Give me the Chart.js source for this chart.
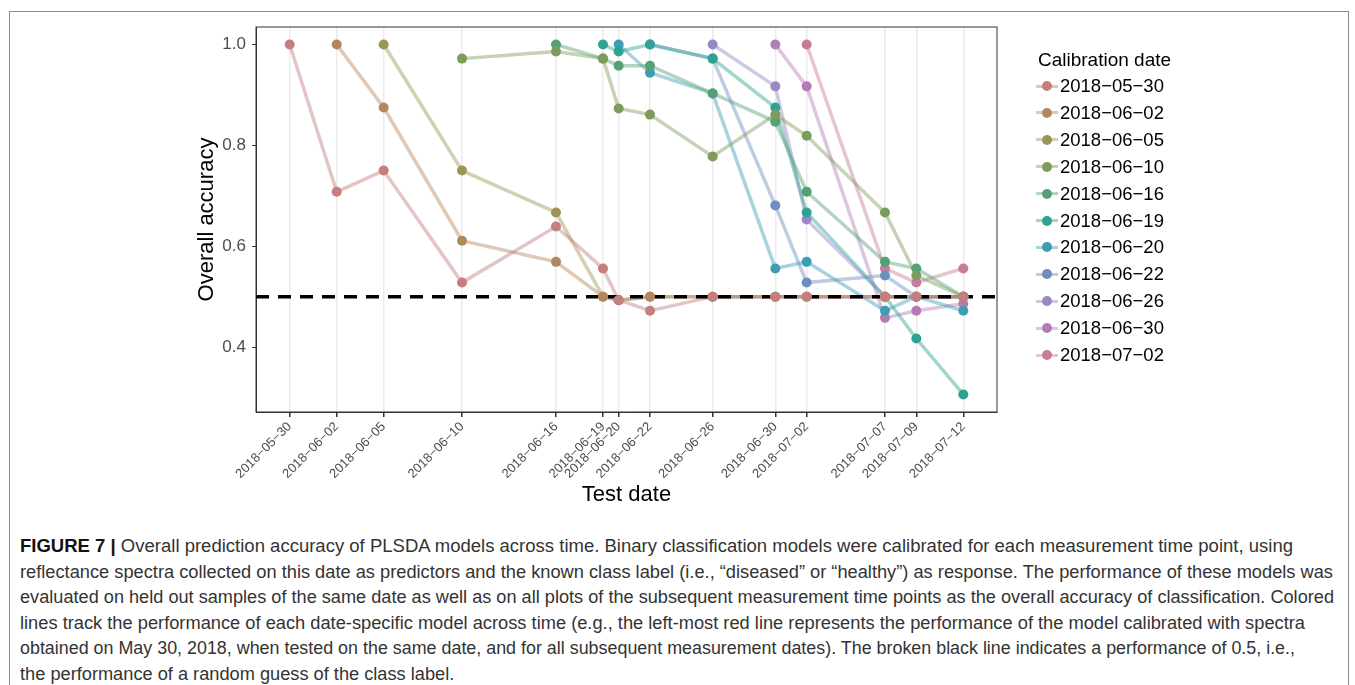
<!DOCTYPE html>
<html>
<head>
<meta charset="utf-8">
<script src="https://cdn.jsdelivr.net/npm/chart.js@4.4.1/dist/chart.umd.min.js"></script>
<style>
  body { margin: 0; background: #fff; width: 1355px; height: 685px; overflow: hidden; position: relative;
         font-family: 'Liberation Sans', Arial, sans-serif; }
  #frame { position: absolute; left: 9px; top: 11px; width: 1340px; height: 700px; border: 1.5px solid #8c8c8c; box-sizing: border-box; }
  #wrap { position: absolute; left: 0; top: 0; width: 1355px; height: 512px; }
  #legend { position: absolute; left: 1033px; top: 0; }
  .lg-title { position: absolute; left: 5px; top: 49px; font-size: 19px; white-space: nowrap; color: #000; }
  .lg-item { position: absolute; left: 0; height: 24px; width: 160px; }
  .lg-line { position: absolute; left: 3px; top: 10.5px; width: 22px; height: 3px; }
  .lg-dot { position: absolute; left: 9px; top: 7px; width: 10px; height: 10px; border-radius: 50%; }
  .lg-text { position: absolute; left: 27px; top: 1px; font-size: 18.5px; white-space: nowrap; color: #000; }
  #caption { position: absolute; left: 20px; top: 534px; color: #333; font-size: 17.5px; line-height: 25.6px; }
  .cl { white-space: nowrap; transform-origin: 0 0; width: max-content; height: 25.6px; }
  .cl b { color: #111; }
</style>
</head>
<body>
<div id="frame"></div>
<div id="wrap"><canvas id="accChart"></canvas></div>
<div id="legend"></div>
<div id="caption"></div>
<script>
// test dates on the x axis
const testDates = ['2018-05-30', '2018-06-02', '2018-06-05', '2018-06-10', '2018-06-16', '2018-06-19', '2018-06-20',
                   '2018-06-22', '2018-06-26', '2018-06-30', '2018-07-02', '2018-07-07', '2018-07-09', '2018-07-12'];
// one model per calibration date
const calibrationDates = ['2018-05-30', '2018-06-02', '2018-06-05', '2018-06-10', '2018-06-16', '2018-06-19',
                          '2018-06-20', '2018-06-22', '2018-06-26', '2018-06-30', '2018-07-02'];

// overall accuracy, aligned with testDates (null = not tested)
const acc0530 = [1.0, 0.708, 0.75, 0.528, 0.639, 0.556, 0.493, 0.472, 0.5, 0.5, 0.5, 0.5, 0.5, 0.5];
const acc0602 = [null, 1.0, 0.875, 0.611, 0.569, 0.5, 0.493, 0.5, 0.5, 0.5, 0.5, 0.5, 0.5, 0.5];
const acc0605 = [null, null, 1.0, 0.75, 0.667, 0.5, 0.493, 0.5, 0.5, 0.5, 0.5, 0.5, 0.5, 0.5];
const acc0610 = [null, null, null, 0.972, 0.986, 0.972, 0.873, 0.861, 0.778, 0.861, 0.819, 0.667, 0.542, 0.5];
const acc0616 = [null, null, null, null, 1.0, 0.972, 0.958, 0.958, 0.903, 0.847, 0.708, 0.569, 0.556, 0.5];
const acc0619 = [null, null, null, null, null, 1.0, 0.986, 1.0, 0.972, 0.875, 0.667, 0.5, 0.417, 0.306];
const acc0620 = [null, null, null, null, null, null, 1.0, 0.944, 0.903, 0.556, 0.569, 0.472, 0.5, 0.472];
const acc0622 = [null, null, null, null, null, null, null, 1.0, 0.972, 0.681, 0.528, 0.542, 0.5, 0.5];
const acc0626 = [null, null, null, null, null, null, null, null, 1.0, 0.917, 0.653, 0.5, 0.5, 0.5];
const acc0630 = [null, null, null, null, null, null, null, null, null, 1.0, 0.917, 0.458, 0.472, 0.486];
const acc0702 = [null, null, null, null, null, null, null, null, null, null, 1.0, 0.556, 0.528, 0.556];

const seriesValues = [acc0530, acc0602, acc0605, acc0610, acc0616, acc0619, acc0620, acc0622, acc0626, acc0630, acc0702];
const seriesColors = ['#C47E7E', '#B3875E', '#9C9556', '#7D9B5C', '#55A174', '#2EA394',
                      '#3D9DB3', '#6C8EC1', '#9988C4', '#B47CB7', '#C77C9C'];
const yTicks = [0.4, 0.6, 0.8, 1.0];
const chanceLevel = 0.5;

// caption lines with the width each one takes in the original (0 = use the average squeeze)
const captionLines = [
  ['FIGURE 7 |', ' Overall prediction accuracy of PLSDA models across time. Binary classification models were calibrated for each measurement time point, using', 1273],
  ['', 'reflectance spectra collected on this date as predictors and the known class label (i.e., \u201cdiseased\u201d or \u201chealthy\u201d) as response. The performance of these models was', 1313],
  ['', 'evaluated on held out samples of the same date as well as on all plots of the subsequent measurement time points as the overall accuracy of classification. Colored', 1314],
  ['', 'lines track the performance of each date-specific model across time (e.g., the left-most red line represents the performance of the model calibrated with spectra', 1285],
  ['', 'obtained on May 30, 2018, when tested on the same date, and for all subsequent measurement dates). The broken black line indicates a performance of 0.5, i.e.,', 1275],
  ['', 'the performance of a random guess of the class label.', 0]
];

const minus = s => s.replace(/-/g, '\u2212');
const hexA = (hex, a) => hex + Math.round(a * 255).toString(16).padStart(2, '0');

const dayMs = 86400000;
const toDay = s => (Date.parse(s) - Date.parse(testDates[0])) / dayMs;
const testDays = testDates.map(toDay);
const span = testDays[testDays.length - 1] - testDays[0];
const xMin = testDays[0] - span * 0.05;
const xMax = testDays[testDays.length - 1] + span * 0.05;
const allVals = seriesValues.flat().filter(v => v != null);
const vLo = Math.min(...allVals), vHi = Math.max(...allVals);
const yMin = vLo - (vHi - vLo) * 0.05;
const yMax = vHi + (vHi - vLo) * 0.05;

const toPoints = vals => vals.map((v, j) => v == null ? null : { x: testDays[j], y: v }).filter(Boolean);

const lineSets = seriesValues.map((vals, i) => ({
    label: calibrationDates[i],
    data: toPoints(vals),
    borderColor: hexA(seriesColors[i], 0.45),
    borderWidth: 3.5,
    pointRadius: 0,
    tension: 0,
    order: 3
}));
const pointSets = seriesValues.map((vals, i) => ({
    label: calibrationDates[i] + ' pts',
    data: toPoints(vals),
    showLine: false,
    pointRadius: 5,
    pointBorderWidth: 0,
    pointBackgroundColor: seriesColors[i],
    pointBorderColor: seriesColors[i],
    order: 1
}));
const chanceSet = {
    label: 'chance',
    data: [{ x: xMin, y: chanceLevel }, { x: xMax, y: chanceLevel }],
    borderColor: '#000',
    borderWidth: 3.5,
    borderDash: [13, 9],
    pointRadius: 0,
    order: 2
};

// top and right edge of the panel
const panelFrame = {
    id: 'panelFrame',
    beforeDatasetsDraw(chart) {
        const { ctx, chartArea: a } = chart;
        ctx.save();
        ctx.strokeStyle = '#333';
        ctx.lineWidth = 1;
        ctx.strokeRect(a.left, a.top, a.right - a.left, a.bottom - a.top);
        ctx.restore();
    }
};

Chart.defaults.font.family = "'Liberation Sans', Arial, sans-serif";

const ctx = document.getElementById('accChart').getContext('2d');
new Chart(ctx, {
    type: 'line',
    data: { datasets: [...lineSets, chanceSet, ...pointSets] },
    options: {
        responsive: true,
        maintainAspectRatio: false,
        animation: false,
        layout: { padding: { left: 190, top: 27, right: 358, bottom: 0 } },
        plugins: { legend: { display: false }, tooltip: { enabled: false } },
        scales: {
            x: {
                type: 'linear',
                min: xMin,
                max: xMax,
                afterBuildTicks: axis => { axis.ticks = testDays.map(v => ({ value: v })); },
                afterFit: axis => { axis.height = 100; },
                ticks: {
                    autoSkip: false,
                    minRotation: 45,
                    maxRotation: 45,
                    padding: 2,
                    color: '#4D4D4D',
                    font: { size: 13 },
                    callback: (v, i) => minus(testDates[i])
                },
                grid: { color: '#EBEBEB', lineWidth: 1.5, tickColor: '#333', tickLength: 5 },
                border: { color: '#333', width: 1 },
                title: { display: true, text: 'Test date', color: '#000', font: { size: 22 } }
            },
            y: {
                min: yMin,
                max: yMax,
                afterBuildTicks: axis => { axis.ticks = yTicks.map(v => ({ value: v })); },
                afterFit: axis => { axis.width = 66; },
                ticks: {
                    padding: 6,
                    color: '#4D4D4D',
                    font: { size: 17 },
                    callback: v => v.toFixed(1)
                },
                grid: { drawOnChartArea: false, tickColor: '#333', tickLength: 4 },
                border: { color: '#333', width: 1 },
                title: { display: true, text: 'Overall accuracy', color: '#000', font: { size: 22 } }
            }
        }
    },
    plugins: [panelFrame]
});

// legend
const legend = document.getElementById('legend');
legend.innerHTML = '<div class="lg-title">Calibration date</div>';
calibrationDates.forEach((d, i) => {
    const row = document.createElement('div');
    row.className = 'lg-item';
    row.style.top = (74 + i * 26.9) + 'px';
    row.innerHTML = '<div class="lg-line" style="background:' + hexA(seriesColors[i], 0.45) + '"></div>' +
        '<div class="lg-dot" style="background:' + seriesColors[i] + '"></div>' +
        '<div class="lg-text">' + minus(d) + '</div>';
    legend.appendChild(row);
});

// caption, squeezed line by line to the condensed look of the original
const caption = document.getElementById('caption');
const squeezes = [];
const captionDivs = captionLines.map(([bold, text, w]) => {
    const line = document.createElement('div');
    line.className = 'cl';
    line.innerHTML = (bold ? '<b>' + bold + '</b>' : '') + text;
    caption.appendChild(line);
    if (w) squeezes.push(w / line.getBoundingClientRect().width);
    return { line, w };
});
const meanSqueeze = squeezes.reduce((a, b) => a + b, 0) / squeezes.length;
captionDivs.forEach(({ line, w }) => {
    const s = w ? w / line.getBoundingClientRect().width : meanSqueeze;
    line.style.transform = 'scaleX(' + s + ')';
});
</script>
</body>
</html>
